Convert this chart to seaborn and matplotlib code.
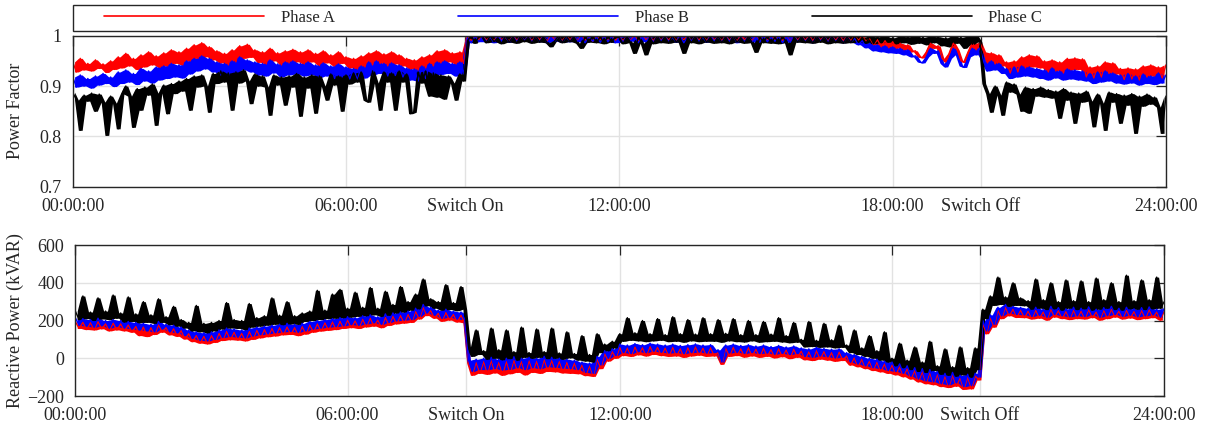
import numpy as np
import pandas as pd
import matplotlib
matplotlib.use("Agg")
import matplotlib.pyplot as plt
from matplotlib.patches import Rectangle
import seaborn as sns

# ---------------- data (5-minute samples, 00:00 .. 24:00) ----------------
phase_names = ["Phase A", "Phase B", "Phase C"]
phase_colors = ["#ff0000", "#0000ff", "#000000"]
tick_hours = [0, 6, 8.61, 12, 18, 19.94, 24]
tick_labels = ["00:00:00", "06:00:00", "Switch On", "12:00:00", "18:00:00", "Switch Off", "24:00:00"]
pf_ticks = [0.7, 0.8, 0.9, 1.0]
pf_tick_labels = ["0.7", "0.8", "0.9", "1"]
rp_ticks = [-200, 0, 200, 400, 600]
sample_minutes = 5

# power factor, in thousandths
pf_a_milli = [
    948, 928, 955, 932, 945, 930, 952, 935, 944, 927, 950, 933,
    958, 936, 965, 940, 955, 933, 962, 938, 968, 942, 960, 937,
    966, 940, 972, 945, 968, 942, 975, 950, 982, 955, 986, 958,
    978, 952, 970, 946, 965, 942, 972, 948, 980, 955, 983, 957,
    972, 947, 968, 944, 975, 950, 966, 942, 970, 946, 973, 948,
    968, 944, 972, 948, 965, 941, 970, 946, 962, 940, 968, 945,
    958, 936, 955, 934, 960, 938, 966, 942, 970, 945, 964, 940,
    968, 944, 962, 940, 955, 934, 952, 932, 958, 936, 962, 940,
    970, 946, 972, 948, 966, 944, 968, 945, 998, 990, 999, 992,
    1000, 991, 998, 990, 1000, 992, 997, 989, 1000, 991, 999, 990,
    998, 990, 1000, 992, 999, 989, 1000, 991, 998, 990, 1000, 992,
    999, 990, 1000, 991, 998, 989, 1000, 992, 999, 990, 1000, 991,
    998, 990, 1000, 991, 999, 989, 1000, 992, 998, 990, 1000, 991,
    999, 991, 1000, 990, 998, 992, 1000, 989, 999, 991, 1000, 990,
    1000, 992, 998, 990, 1000, 991, 999, 989, 1000, 992, 998, 990,
    999, 990, 1000, 991, 998, 992, 1000, 990, 999, 989, 1000, 991,
    1000, 991, 999, 990, 1000, 992, 998, 989, 1000, 991, 999, 990,
    999, 990, 1000, 991, 998, 989, 995, 982, 992, 978, 990, 976,
    988, 975, 985, 972, 982, 968, 970, 958, 956, 968, 985, 975,
    980, 955, 948, 965, 985, 972, 950, 947, 968, 985, 972, 986,
    968, 946, 966, 944, 962, 940, 948, 926, 950, 928, 958, 936,
    962, 938, 960, 936, 950, 928, 952, 930, 948, 926, 955, 932,
    956, 933, 954, 918, 938, 916, 940, 918, 948, 925, 946, 924,
    935, 913, 936, 914, 934, 912, 940, 918, 942, 920, 938, 916,
    942,
]
pf_b_milli = [
    918, 898, 922, 900, 915, 896, 920, 902, 925, 905, 918, 899,
    928, 905, 932, 908, 925, 903, 935, 910, 930, 906, 938, 912,
    940, 915, 945, 918, 942, 916, 950, 924, 955, 930, 960, 934,
    955, 928, 948, 922, 945, 920, 950, 925, 958, 932, 952, 928,
    948, 922, 945, 920, 952, 926, 944, 918, 948, 922, 950, 924,
    945, 920, 948, 922, 942, 917, 946, 920, 940, 915, 944, 918,
    938, 914, 935, 912, 940, 916, 948, 922, 950, 925, 945, 920,
    946, 921, 942, 918, 936, 912, 934, 910, 940, 915, 945, 920,
    948, 923, 950, 925, 945, 920, 948, 924, 996, 986, 999, 988,
    999, 988, 997, 986, 1000, 989, 998, 987, 999, 988, 1000, 990,
    998, 987, 999, 988, 1000, 986, 997, 989, 999, 987, 998, 988,
    1000, 988, 998, 986, 999, 989, 997, 987, 1000, 988, 999, 986,
    998, 987, 1000, 989, 997, 986, 999, 988, 998, 987, 1000, 989,
    999, 988, 997, 987, 1000, 986, 998, 989, 999, 988, 997, 987,
    1000, 989, 998, 987, 999, 988, 1000, 986, 997, 988, 999, 987,
    998, 987, 1000, 988, 997, 989, 999, 986, 998, 987, 1000, 988,
    999, 988, 997, 986, 1000, 989, 998, 987, 999, 988, 997, 986,
    998, 987, 995, 982, 990, 976, 985, 970, 982, 968, 980, 966,
    978, 965, 975, 962, 972, 958, 960, 948, 946, 958, 975, 965,
    970, 945, 938, 955, 975, 962, 940, 937, 958, 975, 962, 976,
    948, 930, 950, 932, 945, 925, 935, 915, 938, 918, 940, 920,
    938, 918, 935, 915, 932, 912, 936, 916, 930, 912, 934, 914,
    932, 912, 930, 910, 925, 905, 928, 908, 930, 910, 926, 906,
    922, 904, 925, 906, 920, 902, 924, 905, 920, 903, 926, 906,
    922,
]
pf_c_milli = [
    888, 872, 812, 882, 870, 886, 850, 884, 868, 802, 880, 866,
    815, 884, 900, 880, 818, 895, 852, 898, 882, 904, 822, 886,
    902, 845, 905, 885, 910, 890, 915, 852, 920, 898, 922, 900,
    848, 925, 905, 930, 908, 926, 852, 928, 906, 932, 910, 865,
    924, 900, 920, 898, 842, 922, 902, 918, 862, 920, 898, 925,
    840, 918, 896, 922, 846, 920, 900, 872, 924, 902, 920, 850,
    922, 904, 926, 908, 928, 872, 868, 930, 906, 852, 928, 908,
    926, 852, 930, 908, 924, 845, 848, 928, 906, 930, 880, 926,
    878, 922, 874, 920, 906, 872, 924, 910, 990, 1000, 985, 998,
    998, 986, 1000, 988, 996, 984, 1000, 987, 998, 985, 1000, 988,
    997, 985, 1000, 987, 998, 986, 978, 990, 999, 986, 1000, 988,
    998, 985, 975, 999, 987, 1000, 986, 998, 984, 1000, 987, 998,
    996, 984, 999, 986, 965, 998, 985, 962, 997, 984, 1000, 986,
    998, 985, 1000, 987, 996, 965, 998, 986, 999, 984, 1000, 987,
    997, 985, 999, 986, 998, 984, 1000, 987, 996, 985, 999, 986,
    967, 998, 986, 1000, 985, 997, 984, 999, 986, 962, 998, 987,
    999, 986, 997, 985, 1000, 987, 998, 984, 999, 986, 997, 985,
    998, 986, 1000, 987, 997, 985, 999, 984, 998, 986, 1000, 987,
    996, 984, 999, 986, 998, 983, 1000, 985, 997, 982, 999, 986,
    998, 980, 996, 978, 1000, 985, 997, 975, 999, 983, 1000, 988,
    905, 885, 848, 900, 882, 842, 908, 888, 904, 884, 850, 898,
    846, 895, 880, 898, 878, 893, 876, 890, 836, 895, 872, 888,
    826, 886, 868, 890, 870, 819, 884, 866, 812, 888, 868, 885,
    826, 882, 862, 885, 806, 880, 860, 884, 864, 878, 858, 806,
    880,
]

# reactive power, kVAR
rp_a = [
    195, 158, 190, 152, 188, 150, 194, 156, 182, 145, 186, 150,
    182, 145, 176, 138, 168, 120, 165, 115, 162, 126, 176, 138,
    162, 124, 156, 116, 146, 102, 130, 88, 120, 80, 116, 76,
    120, 84, 132, 94, 142, 98, 138, 96, 132, 92, 142, 100,
    148, 108, 152, 114, 158, 118, 162, 124, 166, 126, 162, 120,
    168, 128, 176, 138, 182, 144, 188, 148, 192, 152, 196, 158,
    202, 162, 198, 158, 206, 166, 212, 170, 202, 162, 216, 174,
    222, 182, 226, 186, 232, 190, 248, 208, 270, 226, 252, 212,
    238, 196, 242, 202, 232, 192, 228, 188, -25, -90, -20, -80,
    -15, -85, -10, -78, -20, -90, -15, -82, -8, -75, -15, -88,
    -10, -75, -15, -80, -5, -70, -10, -72, -15, -78, -20, -80,
    -25, -82, -35, -92, -40, -96, -5, -55, 25, -15, 35, 0,
    58, 14, 54, 10, 60, 18, 56, 12, 62, 20, 58, 14,
    54, 10, 58, 12, 50, 5, 56, 12, 60, 16, 54, 10,
    56, 12, 30, -32, 54, 10, 58, 14, 50, 6, 56, 12,
    48, 5, 54, 10, 46, 2, 50, 8, 44, -2, 48, 5,
    38, -8, 34, -12, 40, -5, 36, -10, 30, -16, 34, -12,
    12, -36, 2, -45, -5, -55, -15, -65, -20, -72, -30, -80,
    -35, -88, -45, -98, -55, -110, -65, -125, -70, -135, -75, -140,
    -85, -150, -95, -155, -90, -148, -105, -165, -100, -162, -95, -115,
    185, 130, 215, 165, 255, 210, 270, 225, 260, 216, 255, 215,
    250, 208, 255, 212, 245, 202, 260, 218, 252, 210, 248, 205,
    255, 210, 250, 208, 258, 215, 245, 202, 254, 210, 260, 218,
    250, 208, 255, 213, 248, 205, 254, 210, 258, 215, 245, 202,
    250,
]
rp_b = [
    215, 175, 210, 170, 205, 165, 212, 172, 200, 160, 205, 168,
    200, 160, 195, 155, 190, 150, 185, 145, 180, 140, 195, 155,
    180, 140, 175, 135, 165, 120, 150, 105, 140, 95, 135, 92,
    140, 100, 150, 110, 160, 115, 155, 112, 150, 108, 160, 118,
    165, 125, 170, 130, 175, 135, 180, 140, 185, 142, 180, 138,
    185, 145, 195, 155, 200, 160, 205, 165, 210, 168, 215, 172,
    220, 178, 215, 175, 225, 182, 230, 188, 220, 180, 235, 190,
    240, 198, 245, 202, 250, 205, 265, 222, 285, 240, 270, 228,
    255, 212, 260, 218, 250, 208, 245, 205, -10, -70, -5, -60,
    0, -60, 5, -55, -5, -62, 0, -58, 8, -50, 0, -60,
    5, -50, 0, -55, 10, -45, 5, -48, 0, -52, -5, -55,
    -10, -60, -20, -75, -25, -80, 10, -35, 40, 0, 50, 15,
    75, 30, 70, 25, 78, 35, 72, 30, 80, 38, 75, 32,
    70, 28, 75, 30, 68, 25, 72, 30, 76, 33, 70, 28,
    72, 30, 45, -20, 70, 28, 75, 32, 68, 26, 72, 30,
    65, 25, 70, 28, 62, 22, 68, 26, 60, 20, 65, 25,
    55, 10, 50, 5, 58, 12, 52, 8, 48, 2, 50, 6,
    30, -20, 20, -30, 10, -40, 0, -50, -5, -55, -15, -65,
    -20, -70, -30, -80, -40, -95, -50, -110, -55, -120, -60, -125,
    -70, -135, -80, -140, -75, -130, -90, -150, -85, -145, -80, -100,
    200, 145, 230, 180, 270, 225, 285, 240, 275, 232, 270, 230,
    265, 222, 270, 228, 260, 218, 275, 232, 268, 225, 262, 220,
    270, 225, 265, 222, 272, 230, 260, 218, 268, 226, 275, 232,
    265, 222, 270, 228, 262, 220, 268, 225, 272, 230, 260, 218,
    265,
]
rp_c = [
    250, 205, 330, 210, 245, 200, 320, 208, 250, 205, 335, 212,
    240, 192, 325, 195, 235, 188, 300, 190, 230, 185, 315, 190,
    220, 178, 275, 170, 205, 160, 190, 145, 280, 140, 185, 135,
    190, 145, 200, 155, 295, 160, 205, 158, 200, 152, 290, 165,
    215, 170, 225, 175, 320, 180, 228, 178, 300, 182, 225, 180,
    240, 195, 250, 200, 360, 205, 255, 210, 340, 212, 365, 215,
    265, 218, 350, 222, 270, 225, 375, 230, 265, 222, 355, 228,
    285, 240, 380, 245, 300, 255, 340, 262, 420, 278, 315, 265,
    300, 255, 390, 258, 295, 252, 380, 260, 60, 10, 150, 20,
    40, -5, 160, 0, 45, -8, 150, -2, 35, -10, 165, 5,
    30, 0, 155, 5, 35, -2, 160, 0, 28, -5, 140, 2,
    25, -10, 120, -15, 20, -20, 130, 30, 75, 40, 90, 55,
    130, 90, 215, 95, 135, 92, 200, 88, 130, 92, 210, 95,
    125, 88, 220, 90, 130, 85, 205, 92, 128, 88, 215, 90,
    130, 90, 205, 85, 132, 92, 210, 88, 125, 86, 200, 92,
    125, 85, 195, 88, 128, 90, 215, 86, 120, 82, 190, 85,
    100, 60, 195, 62, 95, 58, 185, 60, 98, 55, 175, 58,
    70, 30, 150, 20, 55, 10, 120, 0, 40, -10, 140, -20,
    0, -40, 80, -50, -10, -60, 60, -70, -20, -75, 90, -65,
    -40, -85, 50, -90, -45, -95, 60, -88, -50, -100, 55, -60,
    260, 210, 330, 280, 430, 285, 325, 275, 400, 280, 320, 278,
    305, 260, 420, 265, 310, 258, 400, 262, 300, 255, 415, 265,
    305, 258, 410, 262, 300, 255, 425, 260, 310, 265, 400, 258,
    300, 255, 440, 262, 305, 260, 415, 258, 310, 262, 430, 265,
    300,
]

# ---------------- style ----------------
sns.set_theme(style="white")
plt.rcParams["font.family"] = ["Liberation Serif", "DejaVu Serif"]
ink = "#262626"

fig = plt.figure(figsize=(12.05, 4.25), dpi=100)
ax1 = fig.add_axes([0.0603, 0.5607, 0.9073, 0.3553])
ax2 = fig.add_axes([0.0625, 0.0682, 0.9037, 0.3553])

panels = [
    (ax1, [np.asarray(pf_a_milli) / 1000.0, np.asarray(pf_b_milli) / 1000.0,
           np.asarray(pf_c_milli) / 1000.0]),
    (ax2, [np.asarray(rp_a, float), np.asarray(rp_b, float), np.asarray(rp_c, float)]),
]

legend_handles = []
for ax, series in panels:
    for name, color, vals in zip(phase_names, phase_colors, series):
        hours = np.arange(len(vals)) * sample_minutes / 60.0
        # envelope of consecutive samples -> dense band look
        mid = hours[:-1] + sample_minutes / 120.0
        lo = np.minimum(vals[:-1], vals[1:])
        hi = np.maximum(vals[:-1], vals[1:])
        ax.fill_between(mid, lo, hi, color=color, linewidth=0)
        sns.lineplot(x=hours, y=vals, color=color, linewidth=1.0,
                     estimator=None, sort=False, ax=ax)
        if ax is ax1:
            legend_handles.append(ax.get_lines()[-1])

for ax in (ax1, ax2):
    ax.set_xlim(0, 24)
    ax.set_xticks(tick_hours)
    ax.set_xticklabels(tick_labels)
    ax.set_xlabel("")
    ax.grid(True, color="#e2e2e2", linewidth=1.0)
    ax.set_axisbelow(True)
    ax.tick_params(direction="in", length=7, width=0.9, top=True, right=True,
                   labelsize=13, pad=8, color=ink, labelcolor=ink)
    for sp in ax.spines.values():
        sp.set_color(ink)
        sp.set_linewidth(1.0)
        sp.set_visible(True)

ax1.set_ylim(0.7, 1.0)
ax1.set_yticks(pf_ticks)
ax1.set_yticklabels(pf_tick_labels)
ax1.set_ylabel("Power Factor", fontsize=13, color=ink)
ax1.yaxis.set_label_coords(-0.0445, 0.5)

ax2.set_ylim(-200, 600)
ax2.set_yticks(rp_ticks)
ax2.set_ylabel("Reactive Power (kVAR)", fontsize=13, color=ink)
ax2.yaxis.set_label_coords(-0.047, 0.5)

# legend above top panel, in a full-width box
leg = ax1.legend(legend_handles, phase_names, loc="center left", ncol=3,
                 bbox_to_anchor=(0.0286, 1.117), frameon=False, fontsize=12,
                 handlelength=9.6, handletextpad=1.0, columnspacing=7.4,
                 borderpad=0, borderaxespad=0)
for line in leg.get_lines():
    line.set_linewidth(1.2)
for t in leg.get_texts():
    t.set_color(ink)
fig.add_artist(Rectangle((0, 1.031), 1, 0.172, transform=ax1.transAxes,
                         fill=False, edgecolor=ink, linewidth=1.0, clip_on=False))

fig.savefig("out.png", dpi=100)
